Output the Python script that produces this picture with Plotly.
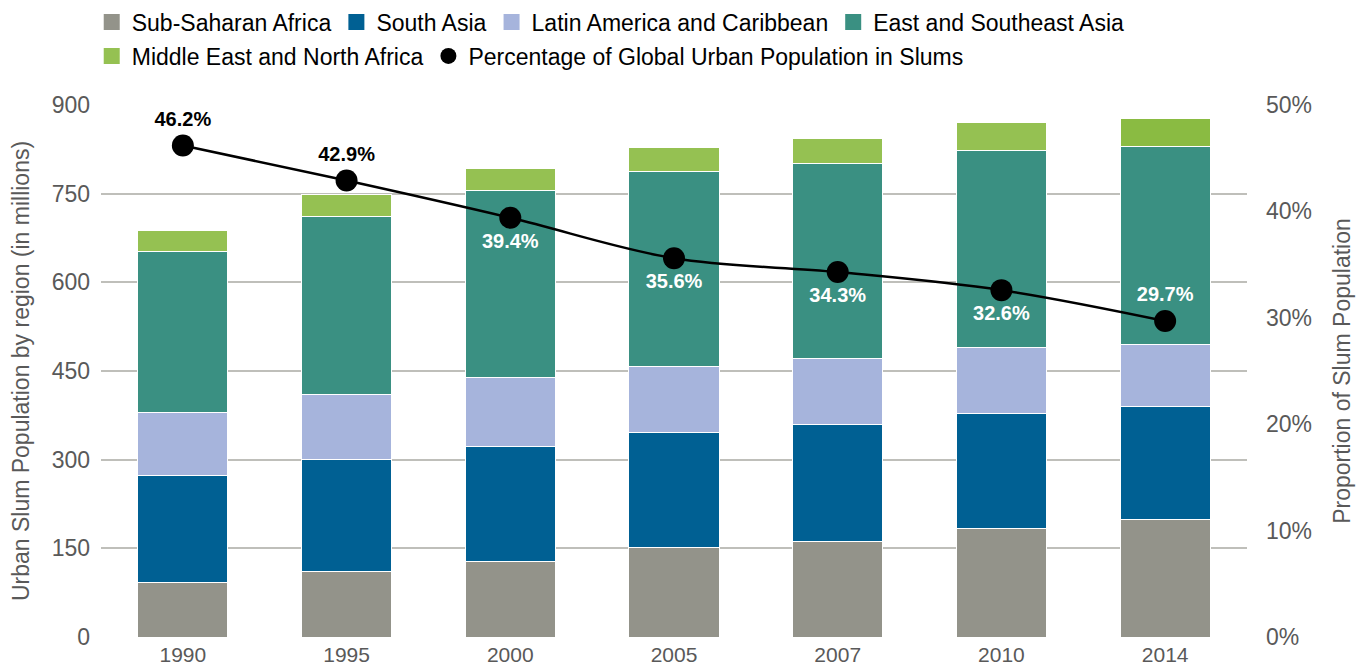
import plotly.graph_objects as go

years = ["1990", "1995", "2000", "2005", "2007", "2010", "2014"]
sub_saharan_africa = [93, 110, 128, 151, 162, 183, 199]
south_asia = [180, 190, 194, 195, 197, 195, 191]
latin_america = [106, 111, 117, 112, 112, 112, 105]
east_southeast_asia = [274, 300, 317, 329, 330, 333, 334]
middle_east_north_africa = [35, 37, 36, 41, 42, 47, 49]
pct_in_slums = [0.462, 0.429, 0.394, 0.356, 0.343, 0.326, 0.297]
pct_labels = ["46.2%", "42.9%", "39.4%", "35.6%", "34.3%", "32.6%", "29.7%"]

label_pos = ["top center", "top center", "bottom center", "bottom center",
             "bottom center", "bottom center", "top center"]
label_col = ["black", "black", "white", "white", "white", "white", "white"]
mena_colors = ["#95C152"] * 6 + ["#8ABB42"]

FONT = "Liberation Sans, Arial, sans-serif"
GRAY = "#595959"

series = [
    ("Sub-Saharan Africa", sub_saharan_africa, "#93938A", "legend"),
    ("South Asia", south_asia, "#006093", "legend"),
    ("Latin America and Caribbean", latin_america, "#A6B4DC", "legend"),
    ("East and Southeast Asia", east_southeast_asia, "#3A9082", "legend"),
    ("Middle East and North Africa", middle_east_north_africa, mena_colors, "legend2"),
]

fig = go.Figure()
for name, vals, col, _ in series:
    fig.add_trace(go.Bar(
        x=years, y=vals, name=name, showlegend=False, legendgroup=name,
        marker=dict(color=col, line=dict(color="white", width=1)),
        width=0.55,
    ))

line_name = "Percentage of Global Urban Population in Slums"
fig.add_trace(go.Scatter(
    x=years, y=pct_in_slums, yaxis="y2",
    name=line_name, showlegend=False, legendgroup=line_name,
    mode="lines+markers+text",
    line=dict(color="black", width=2.5, shape="spline"),
    marker=dict(color="black", size=22),
    text=pct_labels, textposition=label_pos,
    textfont=dict(family=FONT, size=20, color=label_col, weight="bold"),
    cliponaxis=False,
))

# legend entries (square / circle keys like the original)
for name, vals, col, lg in series:
    c = col if isinstance(col, str) else col[0]
    fig.add_trace(go.Scatter(
        x=[None], y=[None], mode="markers", name=name, legend=lg,
        legendgroup=name,
        marker=dict(symbol="square", size=16, color=c),
    ))
fig.add_trace(go.Scatter(
    x=[None], y=[None], mode="markers", name=line_name, legend="legend2",
    legendgroup=line_name, yaxis="y2",
    marker=dict(symbol="circle", size=16, color="black"),
))

leg_common = dict(
    orientation="h", traceorder="normal",
    xref="container", yref="container",
    xanchor="left", yanchor="middle",
    font=dict(family=FONT, size=23, color="black"),
    itemsizing="trace", bgcolor="rgba(0,0,0,0)",
)

fig.update_layout(
    width=1369, height=670,
    barmode="stack",
    plot_bgcolor="white", paper_bgcolor="white",
    margin=dict(l=101, r=122, t=105, b=33, autoexpand=False),
    font=dict(family=FONT, color=GRAY, size=22),
    showlegend=True,
    legend=dict(leg_common, x=0.067, y=1 - 22 / 670),
    legend2=dict(leg_common, x=0.067, y=1 - 56 / 670),
    xaxis=dict(
        type="category", showgrid=False, showline=False, zeroline=False,
        tickfont=dict(size=21, color=GRAY), ticks="", automargin=False,
        ticklabelstandoff=3,
    ),
    yaxis=dict(
        range=[0, 900], tickvals=[0, 150, 300, 450, 600, 750, 900],
        showgrid=True, gridcolor="#BFBFBA", gridwidth=2, zeroline=False,
        tickfont=dict(size=23, color=GRAY), ticklabelstandoff=10,
        automargin=False,
        title=dict(text="Urban Slum Population by region (in millions)",
                   font=dict(size=23, color=GRAY), standoff=15),
    ),
    yaxis2=dict(
        range=[0, 0.5], tickvals=[0, 0.1, 0.2, 0.3, 0.4, 0.5],
        tickformat=".0%", overlaying="y", side="right",
        showgrid=False, zeroline=False, automargin=False,
        tickfont=dict(size=23, color=GRAY), ticklabelstandoff=18,
        title=dict(text="Proportion of Slum Population",
                   font=dict(size=23, color=GRAY), standoff=22),
    ),
)

fig.write_html(
    "out.html",
    config={"displayModeBar": False},
    post_script="document.body.style.margin='0px';document.body.style.padding='0px';"
                "document.body.style.overflow='hidden';",
)
